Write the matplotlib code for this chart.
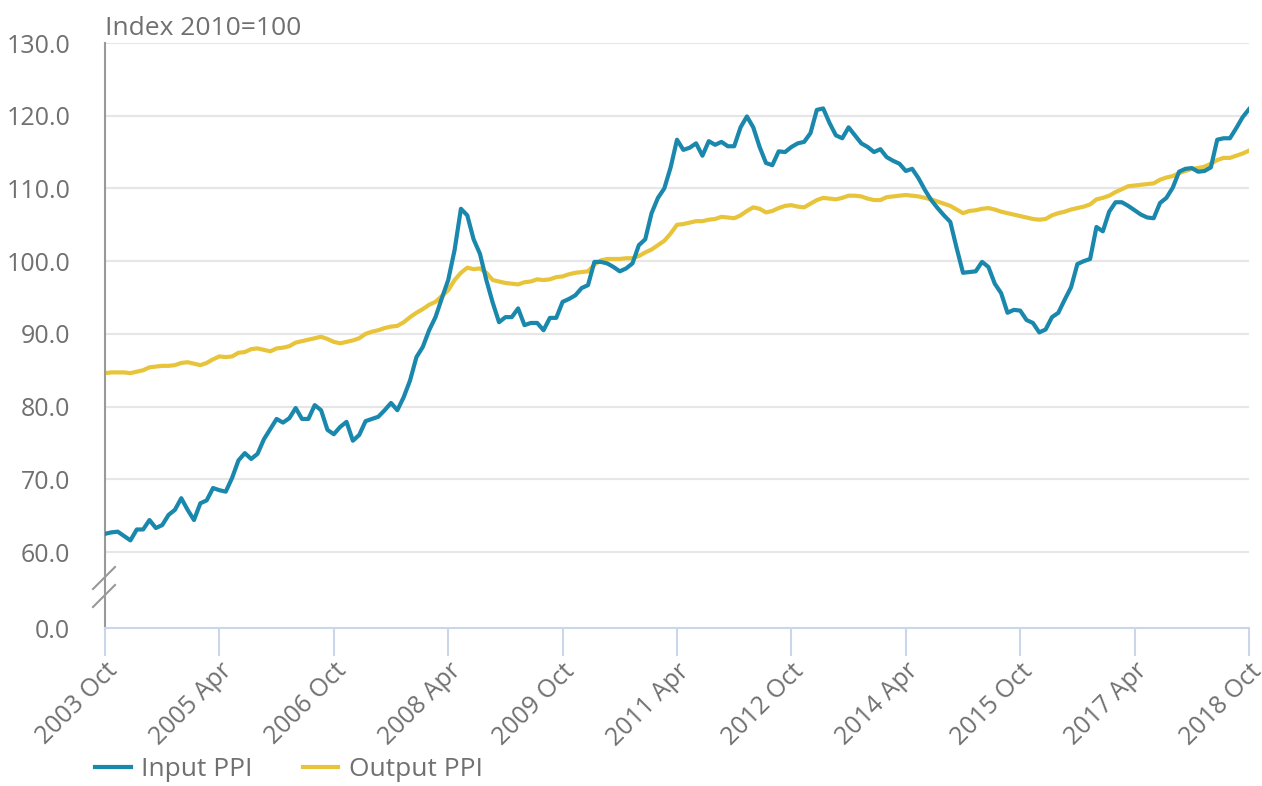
#%%
# Input and output PPI, index 2010=100, monthly Oct 2003 - Oct 2018

# IMPORTS #######################################

import matplotlib
matplotlib.use('Agg')
import matplotlib.pyplot as plt
from matplotlib.lines import Line2D
import numpy as np
import pandas as pd

# SETUP #########################################

plt.rcParams.update({
    'font.family': ['Open Sans', 'DejaVu Sans'],
    'font.size': 18,
})

text_grey = '#707070'
blue = '#1a87ad'
yellow = '#e8c43a'

# DATA ##########################################

input_ppi = [
    62.5, 62.7, 62.8, 62.2, 61.6, 63.1, 63.1, 64.4, 63.3, 63.7,
    65.1, 65.8, 67.4, 65.8, 64.4, 66.7, 67.1, 68.8, 68.5, 68.3,
    70.2, 72.6, 73.6, 72.8, 73.5, 75.5, 76.9, 78.3, 77.8, 78.4,
    79.8, 78.3, 78.3, 80.2, 79.5, 76.8, 76.2, 77.2, 77.9, 75.3,
    76.1, 78.0, 78.3, 78.6, 79.5, 80.5, 79.5, 81.3, 83.6, 86.8,
    88.2, 90.5, 92.3, 94.9, 97.4, 101.5, 107.2, 106.3, 103.0, 101.0,
    97.4, 94.3, 91.6, 92.3, 92.3, 93.5, 91.2, 91.5, 91.5, 90.5,
    92.2, 92.2, 94.4, 94.8, 95.3, 96.3, 96.7, 99.9, 99.9, 99.7,
    99.2, 98.6, 99.0, 99.7, 102.2, 103.0, 106.6, 108.7, 110.0, 112.9,
    116.7, 115.3, 115.6, 116.2, 114.5, 116.5, 116.0, 116.4, 115.8, 115.8,
    118.4, 119.9, 118.4, 115.7, 113.5, 113.2, 115.1, 115.0, 115.7, 116.2,
    116.4, 117.6, 120.8, 121.0, 119.0, 117.3, 116.9, 118.4, 117.3, 116.2,
    115.7, 115.0, 115.4, 114.3, 113.8, 113.4, 112.4, 112.7, 111.4, 109.8,
    108.4, 107.3, 106.3, 105.4, 101.8, 98.4, 98.5, 98.6, 99.9, 99.2,
    96.9, 95.6, 92.9, 93.3, 93.2, 91.9, 91.5, 90.2, 90.6, 92.3,
    92.9, 94.7, 96.4, 99.6, 100.0, 100.3, 104.7, 104.1, 106.8, 108.1,
    108.1, 107.6, 107.0, 106.4, 106.0, 105.9, 108.0, 108.7, 110.1, 112.3,
    112.7, 112.8, 112.3, 112.4, 112.9, 116.7, 116.9, 116.9, 118.3, 119.8,
    120.9,
]

output_ppi = [
    84.6, 84.7, 84.7, 84.7, 84.6, 84.8, 85.0, 85.4, 85.5, 85.6,
    85.6, 85.7, 86.0, 86.1, 85.9, 85.7, 86.0, 86.5, 86.9, 86.8,
    86.9, 87.4, 87.5, 87.9, 88.0, 87.8, 87.6, 88.0, 88.1, 88.3,
    88.8, 89.0, 89.2, 89.4, 89.6, 89.3, 88.9, 88.7, 88.9, 89.1,
    89.4, 90.0, 90.3, 90.5, 90.8, 91.0, 91.1, 91.6, 92.3, 92.9,
    93.4, 94.0, 94.4, 95.2, 96.0, 97.4, 98.4, 99.1, 98.9, 99.0,
    98.4, 97.4, 97.2, 97.0, 96.9, 96.8, 97.1, 97.2, 97.5, 97.4,
    97.5, 97.8, 97.9, 98.2, 98.4, 98.5, 98.6, 99.5, 100.1, 100.3,
    100.3, 100.3, 100.4, 100.4, 100.7, 101.2, 101.6, 102.2, 102.8, 103.8,
    105.0, 105.1, 105.3, 105.5, 105.5, 105.7, 105.8, 106.1, 106.0, 105.9,
    106.3, 106.9, 107.4, 107.2, 106.7, 106.9, 107.3, 107.6, 107.7, 107.5,
    107.4, 107.9, 108.4, 108.7, 108.6, 108.5, 108.7, 109.0, 109.0, 108.9,
    108.6, 108.4, 108.4, 108.8, 108.9, 109.0, 109.1, 109.0, 108.9, 108.7,
    108.5, 108.2, 107.9, 107.6, 107.1, 106.6, 106.9, 107.0, 107.2, 107.3,
    107.1, 106.8, 106.6, 106.4, 106.2, 106.0, 105.8, 105.7, 105.8, 106.3,
    106.6, 106.8, 107.1, 107.3, 107.5, 107.8, 108.5, 108.7, 109.0, 109.5,
    109.9, 110.3, 110.4, 110.5, 110.6, 110.7, 111.2, 111.5, 111.7, 112.1,
    112.4, 112.7, 112.8, 113.0, 113.4, 113.9, 114.2, 114.2, 114.5, 114.8,
    115.2,
]

months = pd.date_range('2003-10-01', periods=len(input_ppi), freq='MS')
month_labels = [d.strftime('%Y %b') for d in months]

y_ticks = [60, 70, 80, 90, 100, 110, 120, 130]

# broken axis: the 0.0 label sits just under the 60 line
y_zero_pos = 49.55

# FIGURE ########################################

fig = plt.figure(figsize=(12.62, 7.86), dpi=100)
ax = fig.add_axes([105/1262, 1 - 628/786, (1249 - 105)/1262, (628 - 43)/786])

x = np.arange(len(input_ppi))

# GRIDS ######################

for v in y_ticks:
    ax.axhline(v, color='#e6e6e6', linewidth=1.5, zorder=0)

# PLOTTING ###################

ax.plot(x, input_ppi, color=blue, linewidth=3, label='Input PPI', zorder=3,
        solid_joinstyle='round')
ax.plot(x, output_ppi, color=yellow, linewidth=3, label='Output PPI', zorder=2,
        solid_joinstyle='round')

# AXIS LIMITS ################

ax.set_xlim(0, len(x) - 1)
ax.set_ylim(y_zero_pos, 130)

# TICKS AND LABELS ###########

ax.set_yticks([y_zero_pos] + y_ticks)
ax.set_yticklabels(['0.0'] + [f'{v:.1f}' for v in y_ticks])
ax.tick_params(axis='y', length=0, pad=25, labelsize=18, labelcolor=text_grey)

tick_idx = list(range(0, len(x), 18))
ax.set_xticks(tick_idx)
ax.set_xticklabels([month_labels[i] for i in tick_idx], rotation=45,
                   ha='right', rotation_mode='anchor')
ax.tick_params(axis='x', length=20, width=1.5, color='#ccd6eb', pad=2,
               labelsize=18, labelcolor=text_grey)

# SPINES #####################

for side in ['top', 'right']:
    ax.spines[side].set_visible(False)
ax.spines['bottom'].set_color('#ccd6eb')
ax.spines['bottom'].set_linewidth(1.5)
ax.spines['left'].set_color('#999999')
ax.spines['left'].set_linewidth(1.5)

# break marks on the y axis
for y0 in [575, 593]:
    fig.add_artist(Line2D([93/1262, 115/1262],
                          [1 - (y0 + 14)/786, 1 - (y0 - 8)/786],
                          color='#999999', linewidth=1.5))

# TITLE ######################

fig.text(105/1262, 1 - 35/786, 'Index 2010=100', fontsize=19, color=text_grey,
         ha='left', va='baseline')

# LEGEND ####################

fig.legend(loc='center left', bbox_to_anchor=(95/1262, 1 - 770/786), ncol=2,
           frameon=False, fontsize=19, labelcolor=text_grey, handlelength=1.35,
           columnspacing=1.9, handletextpad=0.4, borderpad=0, borderaxespad=0)

# EXPORT #########################################

fig.savefig('out.png', dpi=100)
